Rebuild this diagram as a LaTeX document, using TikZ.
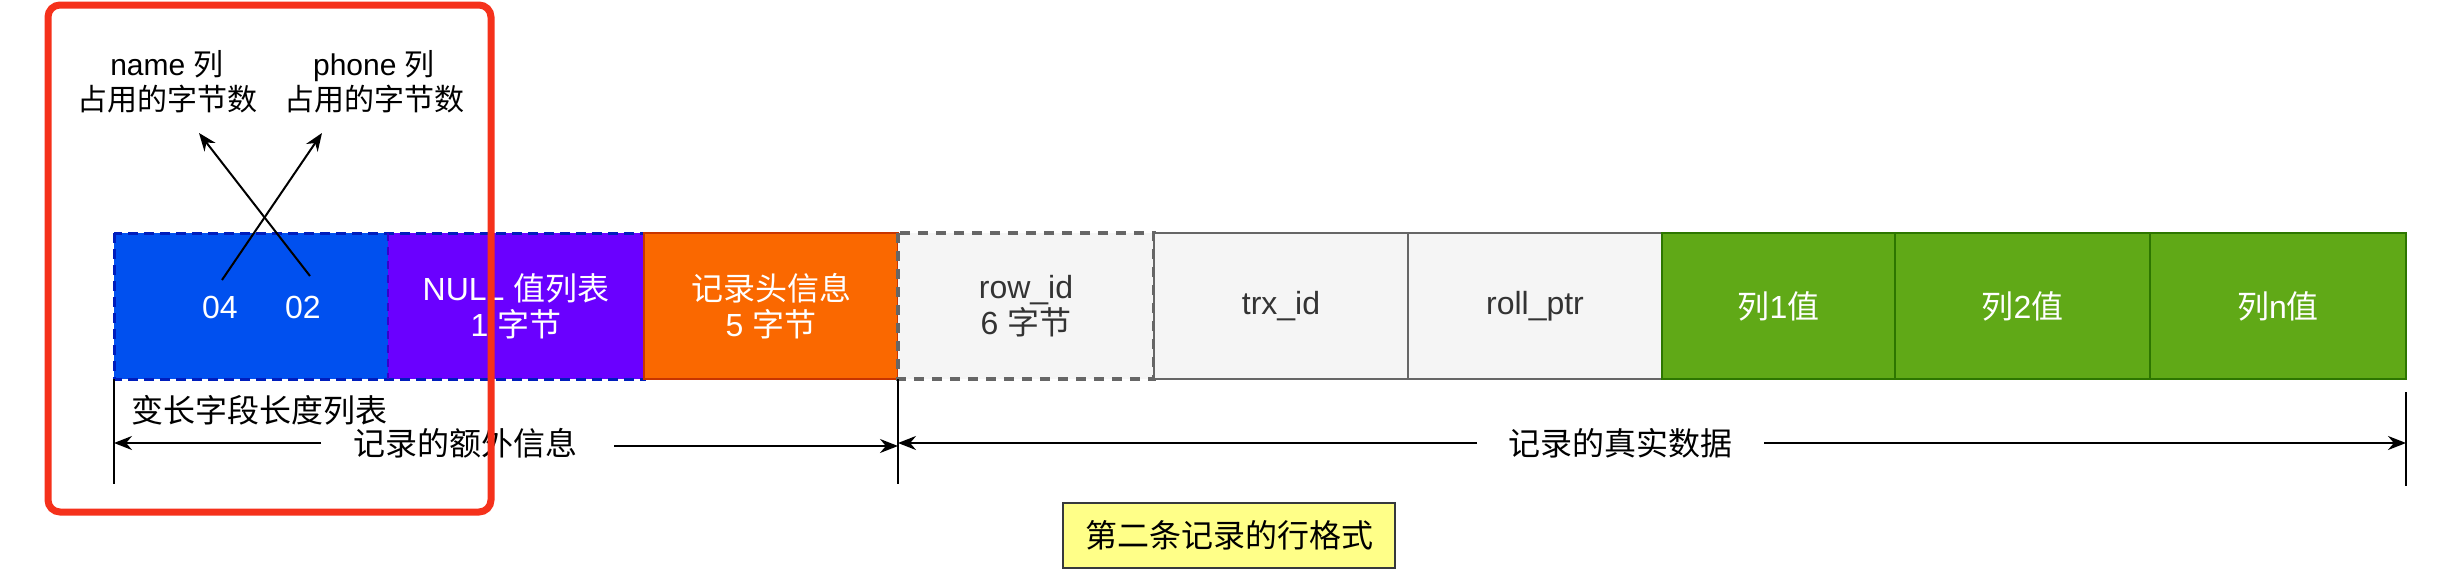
\documentclass[tikz,border=0pt]{standalone}
\usepackage{fontspec}
\setmainfont{Liberation Sans}
\newfontfamily\cjk{Noto Sans CJK SC}
\usetikzlibrary{arrows.meta}
\definecolor{blueF}{HTML}{0050EF}
\definecolor{blueS}{HTML}{001DBC}
\definecolor{purpF}{HTML}{6A00FF}
\definecolor{purpS}{HTML}{3700CC}
\definecolor{oranF}{HTML}{FA6800}
\definecolor{oranS}{HTML}{C73500}
\definecolor{grayF}{HTML}{F5F5F5}
\definecolor{grayS}{HTML}{666666}
\definecolor{grayT}{HTML}{333333}
\definecolor{greenF}{HTML}{60A917}
\definecolor{greenS}{HTML}{2D7600}
\definecolor{noteF}{HTML}{FFFF88}
\definecolor{noteS}{HTML}{36393D}
\definecolor{redB}{HTML}{F5311B}
\tikzset{
  cell/.style={anchor=north west, inner sep=0pt, outer sep=0pt, minimum height=73pt,
    align=center, font=\fontsize{16}{18}\selectfont, line width=1pt},
  whitecell/.style={cell, text=white},
  graycell/.style={cell, fill=grayF, draw=grayS, text=grayT},
  lbl/.style={inner sep=0pt, align=center, font=\fontsize{16}{18}\selectfont},
  toplbl/.style={inner sep=0pt, align=center, font=\fontsize{15}{17.5}\selectfont},
  arr/.style={line width=1pt, -{Stealth[length=9pt,width=7pt]}},
  dimline/.style={line width=1pt},
}
\begin{document}
\begin{tikzpicture}[x=0.5pt,y=-0.5pt]
\useasboundingbox (0,0) rectangle (2442,578);
% cells
\node[whitecell, fill=blueF, minimum width=137pt] (varlen) at (114,233) {};
\node[whitecell, fill=purpF, minimum width=128pt] (nulls) at (388,233) {NULL {\cjk 值列表}\\1 {\cjk 字节}};
\draw[blueS, line width=1.5pt, dash pattern=on 5pt off 3pt] (varlen.north west) rectangle (nulls.south east);
\draw[purpS, line width=1pt, dash pattern=on 4pt off 3pt] (nulls.north west) -- (nulls.south west);
\node[whitecell, fill=oranF, draw=oranS, minimum width=127pt] (hdr) at (644,233) {{\cjk 记录头信息}\\5 {\cjk 字节}};
\node[graycell, draw=none, minimum width=128pt] (rowid) at (898,233) {row\_id\\6 {\cjk 字节}};
\draw[grayS, line width=2pt, dash pattern=on 5pt off 4pt] (rowid.north west) rectangle (rowid.south east);
\node[graycell, minimum width=127pt] (trx) at (1154,233) {trx\_id};
\node[graycell, minimum width=127pt] (roll) at (1408,233) {roll\_ptr};
\node[whitecell, fill=greenF, draw=greenS, minimum width=116.5pt] (c1) at (1662,233) {{\cjk 列}1{\cjk 值}};
\node[whitecell, fill=greenF, draw=greenS, minimum width=127.5pt] (c2) at (1895,233) {{\cjk 列}2{\cjk 值}};
\node[whitecell, fill=greenF, draw=greenS, minimum width=128pt] (cn) at (2150,233) {{\cjk 列}n{\cjk 值}};
% numbers in the variable length list
\node[lbl, text=white] (n04) at (220,307) {04};
\node[lbl, text=white] (n02) at (303,307) {02};
% top labels
\node[toplbl] (namecol) at (167,82) {name {\cjk 列}\\{\cjk 占用的字节数}};
\node[toplbl] (phonecol) at (374,82) {phone {\cjk 列}\\{\cjk 占用的字节数}};
\coordinate (a1s) at (222,280);
\coordinate (a1e) at (322,133);
\coordinate (a2s) at (310,276);
\coordinate (a2e) at (199,133);
\draw[arr] (a1s) -- (a1e);
\draw[arr] (a2s) -- (a2e);
% label under
\node[lbl] (varlbl) at (259,410) {\cjk 变长字段长度列表};
% dimension lines
\coordinate (vL1) at (114,379);
\coordinate (vL2) at (114,484);
\coordinate (vM1) at (898,379);
\coordinate (vM2) at (898,484);
\coordinate (vR1) at (2406,392);
\coordinate (vR2) at (2406,486);
\draw[dimline] (vL1) -- (vL2);
\draw[dimline] (vM1) -- (vM2);
\draw[dimline] (vR1) -- (vR2);
\node[lbl] (extra) at (465,443) {\cjk 记录的额外信息};
\node[lbl] (real) at (1620,443) {\cjk 记录的真实数据};
\coordinate (e1) at (321,443);
\coordinate (eL) at (114,443);
\coordinate (e2) at (614,446);
\coordinate (eR) at (898,446);
\coordinate (r1) at (1477,443);
\coordinate (rL) at (898,443);
\coordinate (r2) at (1764,443);
\coordinate (rR) at (2406,443);
\draw[arr] (e1) -- (eL);
\draw[arr] (e2) -- (eR);
\draw[arr] (r1) -- (rL);
\draw[arr] (r2) -- (rR);
% note
\node[lbl, draw=noteS, fill=noteF, line width=1pt, minimum width=166pt, minimum height=32.5pt] (note) at (1229,535) {\cjk 第二条记录的行格式};
% red highlight
\draw[redB, line width=3.5pt, rounded corners=6pt] (48,5) rectangle (491,512);
\end{tikzpicture}
\end{document}
